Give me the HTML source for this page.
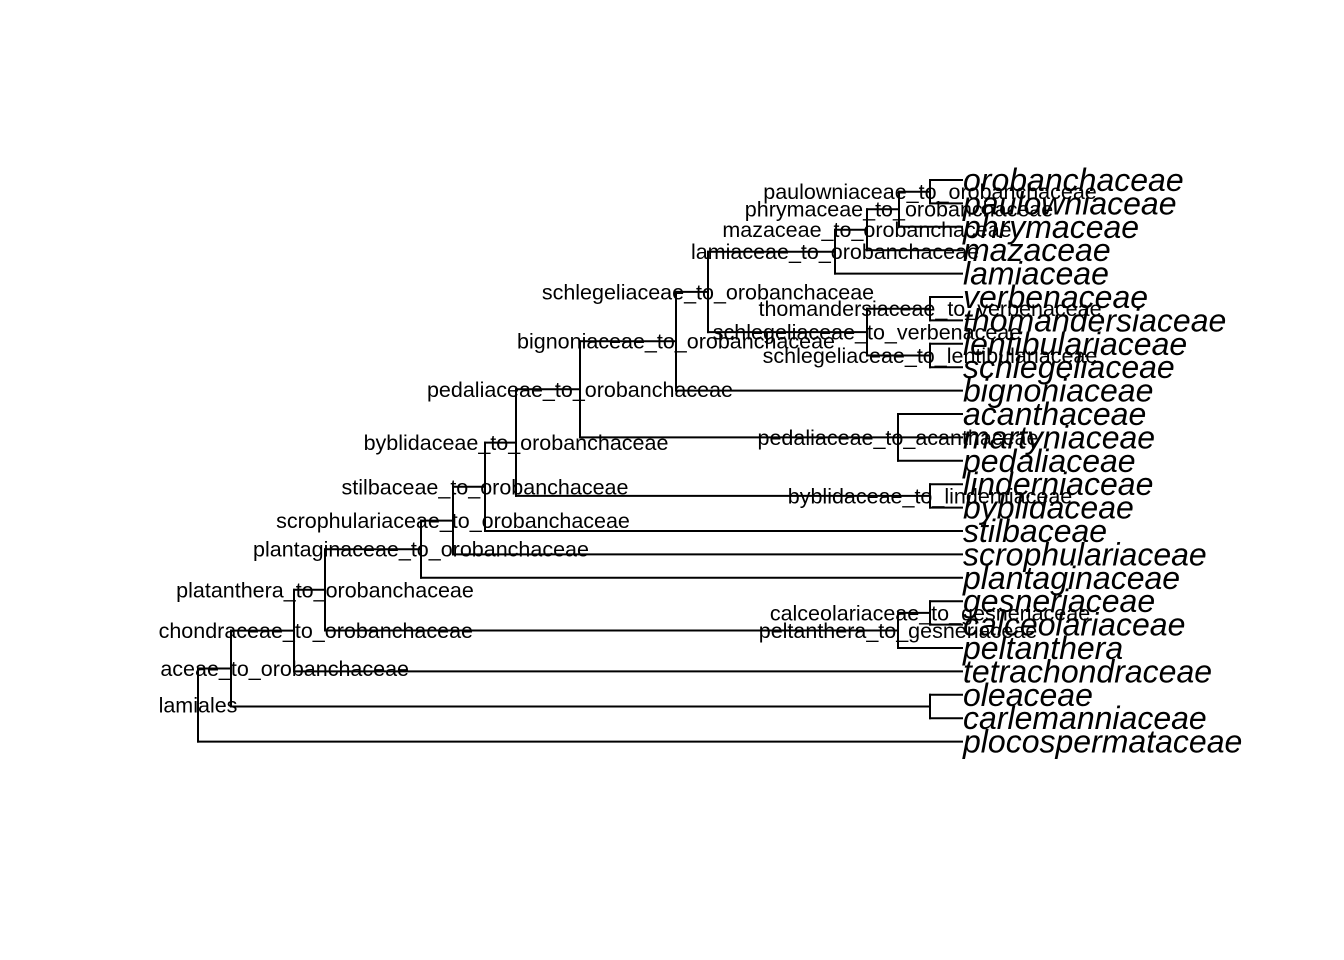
<!DOCTYPE html>
<html><head><meta charset="utf-8"><style>
html,body{margin:0;padding:0;background:#fff;}
svg{display:block;}
.n{font-family:"Liberation Sans",Arial,sans-serif;font-size:21.5px;fill:#000;}
.t{font-family:"Liberation Sans",Arial,sans-serif;font-size:32px;font-style:italic;fill:#000;}
</style></head><body>
<svg width="1344" height="960" viewBox="0 0 1344 960" xmlns="http://www.w3.org/2000/svg">
<defs><clipPath id="c"><rect x="157" y="0" width="1187" height="960"/></clipPath></defs>
<g stroke="#000" stroke-width="2" fill="none" stroke-linecap="square">
<path d="M930 180V203.4 M899 191.7V226.8 M867 209.25V250.2 M835 229.7V273.6 M930 297V320.4 M930 343.8V367.2 M867 308.7V355.5 M708 251.7V332.1 M676 291.9V390.6 M898 414V460.8 M580 341.25V437.4 M930 484.2V507.6 M516 389.3V495.9 M485 442.6V531 M453 486.8V554.4 M421 520.6V577.8 M930 601.2V624.6 M898 612.9V648 M325 549.2V630.45 M294 589.8V671.4 M930 694.8V718.2 M231 630.6V706.5 M198 668.55V741.6"/>
<path d="M930 180H962 M930 203.4H962 M899 226.8H962 M867 250.2H962 M835 273.6H962 M930 297H962 M930 320.4H962 M930 343.8H962 M930 367.2H962 M676 390.6H962 M898 414H962 M898 437.4H962 M898 460.8H962 M930 484.2H962 M930 507.6H962 M485 531H962 M453 554.4H962 M421 577.8H962 M930 601.2H962 M930 624.6H962 M898 648H962 M294 671.4H962 M930 694.8H962 M930 718.2H962 M198 741.6H962"/>
<path d="M899 191.7H930 M867 209.25H899 M835 229.7H867 M708 251.7H835 M867 308.7H930 M867 355.5H930 M708 332.1H867 M676 291.9H708 M580 341.25H676 M580 437.4H898 M516 389.3H580 M516 495.9H930 M485 442.6H516 M453 486.8H485 M421 520.6H453 M325 549.2H421 M898 612.9H930 M325 630.45H898 M294 589.8H325 M231 630.6H294 M231 706.5H930 M198 668.55H231"/>
</g>
<g class="n" text-anchor="middle">
<text x="930" y="199.2">paulowniaceae_to_orobanchaceae</text>
<text x="899" y="216.7">phrymaceae_to_orobanchaceae</text>
<text x="867" y="237.2">mazaceae_to_orobanchaceae</text>
<text x="835" y="259.2">lamiaceae_to_orobanchaceae</text>
<text x="930" y="316.2">thomandersiaceae_to_verbenaceae</text>
<text x="930" y="363">schlegeliaceae_to_lentibulariaceae</text>
<text x="867" y="339.6">schlegeliaceae_to_verbenaceae</text>
<text x="708" y="299.4">schlegeliaceae_to_orobanchaceae</text>
<text x="676" y="348.7">bignoniaceae_to_orobanchaceae</text>
<text x="580" y="396.8">pedaliaceae_to_orobanchaceae</text>
<text x="898" y="444.9">pedaliaceae_to_acanthaceae</text>
<text x="516" y="450.1">byblidaceae_to_orobanchaceae</text>
<text x="930" y="503.4">byblidaceae_to_linderniaceae</text>
<text x="485" y="494.3">stilbaceae_to_orobanchaceae</text>
<text x="453" y="528.1">scrophulariaceae_to_orobanchaceae</text>
<text x="421" y="556.7">plantaginaceae_to_orobanchaceae</text>
<text x="325" y="597.3">platanthera_to_orobanchaceae</text>
<text x="930" y="620.4">calceolariaceae_to_gesneriaceae</text>
<text x="898" y="637.9">peltanthera_to_gesneriaceae</text>
<text x="198" y="712.5">lamiales</text>
</g>
<g class="n" text-anchor="end" clip-path="url(#c)">
<text x="473" y="638.1">chondraceae_to_orobanchaceae</text>
<text x="409" y="676">aceae_to_orobanchaceae</text>
</g>
<g class="t">
<text x="963" y="191">orobanchaceae</text>
<text x="963" y="214.4">paulowniaceae</text>
<text x="963" y="237.8">phrymaceae</text>
<text x="963" y="261.2">mazaceae</text>
<text x="963" y="284.6">lamiaceae</text>
<text x="963" y="308">verbenaceae</text>
<text x="963" y="331.4">thomandersiaceae</text>
<text x="963" y="354.8">lentibulariaceae</text>
<text x="963" y="378.2">schlegeliaceae</text>
<text x="963" y="401.6">bignoniaceae</text>
<text x="963" y="425">acanthaceae</text>
<text x="963" y="448.4">martyniaceae</text>
<text x="963" y="471.8">pedaliaceae</text>
<text x="963" y="495.2">linderniaceae</text>
<text x="963" y="518.6">byblidaceae</text>
<text x="963" y="542">stilbaceae</text>
<text x="963" y="565.4">scrophulariaceae</text>
<text x="963" y="588.8">plantaginaceae</text>
<text x="963" y="612.2">gesneriaceae</text>
<text x="963" y="635.6">calceolariaceae</text>
<text x="963" y="659">peltanthera</text>
<text x="963" y="682.4">tetrachondraceae</text>
<text x="963" y="705.8">oleaceae</text>
<text x="963" y="729.2">carlemanniaceae</text>
<text x="963" y="752.6">plocospermataceae</text>
</g>
</svg>
</body></html>
